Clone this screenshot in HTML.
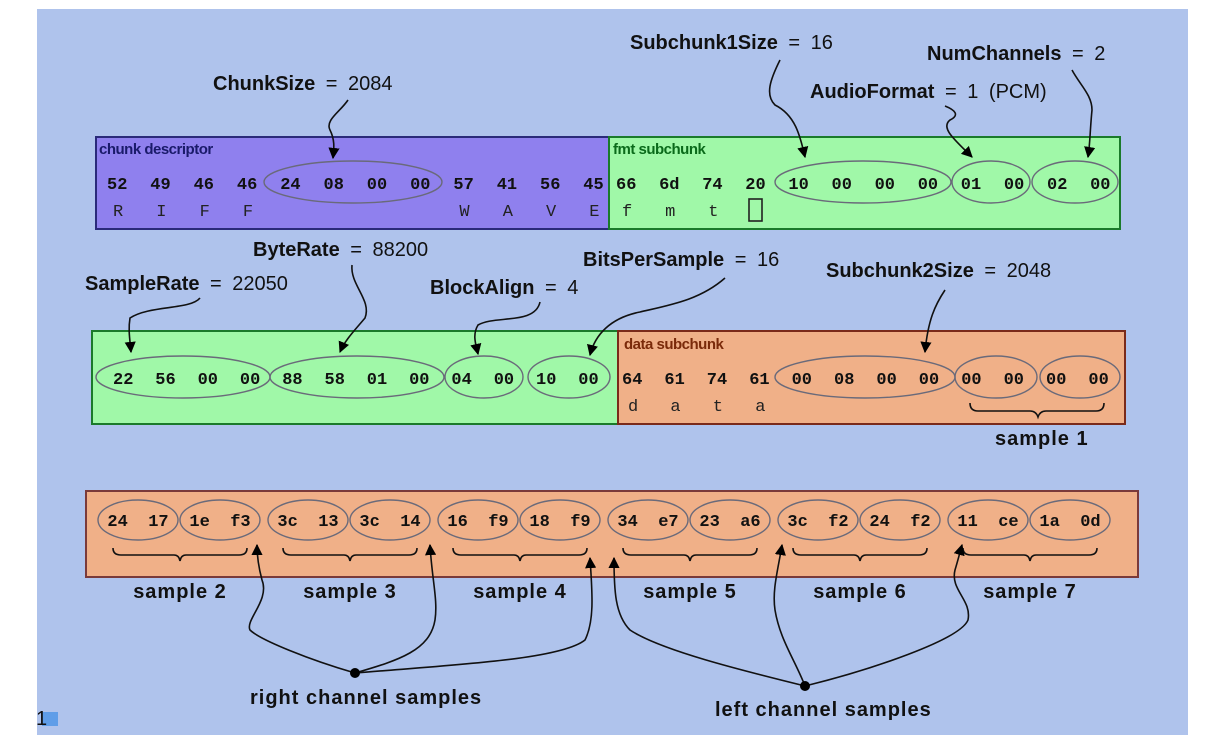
<!DOCTYPE html>
<html><head><meta charset="utf-8"><style>
html,body{margin:0;padding:0;background:#fff;}
svg{display:block}
.hex{font-family:"Liberation Mono",monospace;font-weight:bold;font-size:17px;fill:#111}
.asc{font-family:"Liberation Mono",monospace;font-size:17px;fill:#222}
.lbl{font-family:"Liberation Sans",sans-serif;font-size:20px;fill:#111;word-spacing:5px}
.lbl tspan.b{font-weight:bold}
.sec{font-family:"Liberation Sans",sans-serif;font-weight:bold;font-size:15px;letter-spacing:-0.5px}
.smp{font-family:"Liberation Sans",sans-serif;font-weight:bold;font-size:20px;fill:#111;letter-spacing:1px}
.arr{fill:none;stroke:#111;stroke-width:1.6}
.ell{fill:none;stroke:#6a6a7a;stroke-width:1.4}
</style></head><body>
<svg id="diag" width="1221" height="747" viewBox="0 0 1221 747">
<defs><marker id="ah" viewBox="0 0 10 10" refX="9" refY="5" markerWidth="7" markerHeight="7" orient="auto-start-reverse"><path d="M0,0 L10,5 L0,10 z" fill="#000"/></marker></defs>
<rect x="37" y="9" width="1151" height="726" fill="#afc3ec"/>
<rect x="42" y="712" width="16" height="14" fill="#5f9de8"/>
<text x="36" y="725" class="lbl" font-size="16">1</text>

<rect x="96" y="137" width="513" height="92" fill="#8f80ee" stroke="#2a2a7a" stroke-width="2"/>
<rect x="609" y="137" width="511" height="92" fill="#a0f8a8" stroke="#1a7a2a" stroke-width="2"/>
<text x="99" y="154" class="sec" fill="#1a1a6a">chunk descriptor</text>
<text x="613" y="154" class="sec" fill="#0a6a1a">fmt subchunk</text>
<rect x="749" y="199" width="13" height="22" fill="none" stroke="#222" stroke-width="1.6"/>

<rect x="92" y="331" width="526" height="93" fill="#a0f8a8" stroke="#1a7a2a" stroke-width="2"/>
<rect x="618" y="331" width="507" height="93" fill="#f0b088" stroke="#7a2a1a" stroke-width="2"/>
<text x="624" y="349" class="sec" fill="#7a2a0a">data subchunk</text>

<rect x="86" y="491" width="1052" height="86" fill="#f0b088" stroke="#7a3a3a" stroke-width="2"/>

<g id="bytes"></g>

<g>
<ellipse cx="353" cy="182" rx="89" ry="21" class="ell"/>
<ellipse cx="863" cy="182" rx="88" ry="21" class="ell"/>
<ellipse cx="991" cy="182" rx="39" ry="21" class="ell"/>
<ellipse cx="1075" cy="182" rx="43" ry="21" class="ell"/>
<ellipse cx="183" cy="377" rx="87" ry="21" class="ell"/>
<ellipse cx="357" cy="377" rx="87" ry="21" class="ell"/>
<ellipse cx="484" cy="377" rx="39" ry="21" class="ell"/>
<ellipse cx="569" cy="377" rx="41" ry="21" class="ell"/>
<ellipse cx="865" cy="377" rx="90" ry="21" class="ell"/>
<ellipse cx="996" cy="377" rx="41" ry="21" class="ell"/>
<ellipse cx="1080" cy="377" rx="40" ry="21" class="ell"/>
</g>
<g id="ell3"></g>
<g id="braces"></g>

<path d="M970,403 q0,8 8,8 h52 q6,0 8,6 q2,-6 8,-6 h50 q8,0 8,-8" class="arr" stroke-width="1.2"/>
<text x="995" y="445" class="smp">sample 1</text>

<g>
<text x="213" y="90" class="lbl"><tspan class="b">ChunkSize</tspan> = 2084</text>
<text x="630" y="49" class="lbl"><tspan class="b">Subchunk1Size</tspan> = 16</text>
<text x="927" y="60" class="lbl"><tspan class="b">NumChannels</tspan> = 2</text>
<text x="810" y="98" class="lbl"><tspan class="b">AudioFormat</tspan> = 1 (PCM)</text>
<text x="253" y="256" class="lbl"><tspan class="b">ByteRate</tspan> = 88200</text>
<text x="583" y="266" class="lbl"><tspan class="b">BitsPerSample</tspan> = 16</text>
<text x="85" y="290" class="lbl"><tspan class="b">SampleRate</tspan> = 22050</text>
<text x="430" y="294" class="lbl"><tspan class="b">BlockAlign</tspan> = 4</text>
<text x="826" y="277" class="lbl"><tspan class="b">Subchunk2Size</tspan> = 2048</text>
<text x="250" y="704" class="smp">right channel samples</text>
<text x="715" y="716" class="smp">left channel samples</text>
</g>

<g>
<path class="arr" marker-end="url(#ah)" d="M348,100 C340,112 325,120 330,130 C335,140 334,148 333,158"/>
<path class="arr" marker-end="url(#ah)" d="M780,60 C770,80 765,95 775,105 C795,115 800,135 805,157"/>
<path class="arr" marker-end="url(#ah)" d="M1072,70 C1080,85 1092,95 1092,110 C1090,130 1090,145 1088,157"/>
<path class="arr" marker-end="url(#ah)" d="M945,106 C955,110 960,115 950,120 C940,128 955,140 972,157"/>
<path class="arr" marker-end="url(#ah)" d="M200,298 C190,310 150,305 130,318 C128,330 130,340 131,352"/>
<path class="arr" marker-end="url(#ah)" d="M352,265 C350,285 372,300 365,318 C355,330 345,340 340,352"/>
<path class="arr" marker-end="url(#ah)" d="M540,302 C535,325 495,315 478,325 C472,335 476,345 478,354"/>
<path class="arr" marker-end="url(#ah)" d="M725,278 C700,300 670,305 640,312 C610,318 595,335 590,355"/>
<path class="arr" marker-end="url(#ah)" d="M945,290 C935,305 928,320 925,352"/>
<path class="arr" marker-end="url(#ah)" d="M355,673 C310,660 260,640 250,630 C245,620 270,600 262,580 C258,565 257,555 257,545"/>
<path class="arr" marker-end="url(#ah)" d="M355,673 C400,660 430,650 435,620 C438,600 432,580 430,545"/>
<path class="arr" marker-end="url(#ah)" d="M355,673 C450,665 560,660 585,640 C595,620 592,590 590,558"/>
<path class="arr" marker-end="url(#ah)" d="M805,686 C740,670 660,650 630,630 C615,615 614,590 614,558"/>
<path class="arr" marker-end="url(#ah)" d="M805,686 C795,660 780,640 775,610 C772,590 778,570 782,545"/>
<path class="arr" marker-end="url(#ah)" d="M805,686 C870,670 960,640 968,620 C972,600 950,590 955,570 C958,560 960,552 962,545"/>
</g>
<circle cx="355" cy="673" r="5" fill="#000"/>
<circle cx="805" cy="686" r="5" fill="#000"/>
</svg>
<script>
const row1Hex = ["52","49","46","46","24","08","00","00","57","41","56","45","66","6d","74","20","10","00","00","00","01","00","02","00"];
const row1Asc = ["R","I","F","F","","","","","W","A","V","E","f","m","t","","","","","","","","",""];
const row2Hex = ["22","56","00","00","88","58","01","00","04","00","10","00","64","61","74","61","00","08","00","00","00","00","00","00"];
const row2Asc = ["","","","","","","","","","","","","d","a","t","a","","","","","","","",""];
const row3Pairs = ["24 17","1e f3","3c 13","3c 14","16 f9","18 f9","34 e7","23 a6","3c f2","24 f2","11 ce","1a 0d"];
const sampleNames = ["sample 2","sample 3","sample 4","sample 5","sample 6","sample 7"];
const NS="http://www.w3.org/2000/svg";
const g=document.getElementById('bytes');
function mk(tag,attrs,txt,parent){const e=document.createElementNS(NS,tag);for(const k in attrs)e.setAttribute(k,attrs[k]);if(txt!==undefined)e.textContent=txt;(parent||g).appendChild(e);return e;}
const r1x = i => i<12 ? 107+i*43.3 : 616+(i-12)*43.1;
const r2x = i => i<12 ? 113+i*42.3 : 622+(i-12)*42.4;
row1Hex.forEach((v,i)=>{const t=mk('text',{x:r1x(i),y:189,'class':'hex'},v);


if(row1Asc[i]){const a=mk('text',{x:r1x(i)+6,y:216,'class':'asc'},row1Asc[i]);

}});
row2Hex.forEach((v,i)=>{const t=mk('text',{x:r2x(i),y:384,'class':'hex'},v);


if(row2Asc[i]){const a=mk('text',{x:r2x(i)+6,y:411,'class':'asc'},row2Asc[i]);

}});
const e3=document.getElementById('ell3'), br=document.getElementById('braces');
const pairX = i => 138 + Math.floor(i/2)*170 + (i%2)*82;
row3Pairs.forEach((v,i)=>{const cx=pairX(i);
const el=mk('ellipse',{cx:cx,cy:520,rx:40,ry:20,'class':'ell'},undefined,e3);


const t=mk('text',{x:cx,y:526,'class':'hex','text-anchor':'middle','xml:space':'preserve'},v.replace(' ','\u00a0\u00a0'));

});
sampleNames.forEach((s,k)=>{const x0=pairX(2*k)-25, x1=pairX(2*k+1)+27, m=(x0+x1)/2;
const p=mk('path',{d:`M${x0},548 q0,7 8,7 H${m-6} q5,0 6,6 q1,-6 6,-6 H${x1-8} q8,0 8,-7`,'class':'arr','stroke-width':1.2},undefined,br);


const t=mk('text',{x:m,y:598,'class':'smp','text-anchor':'middle'},s);

});
</script>
</body></html>
